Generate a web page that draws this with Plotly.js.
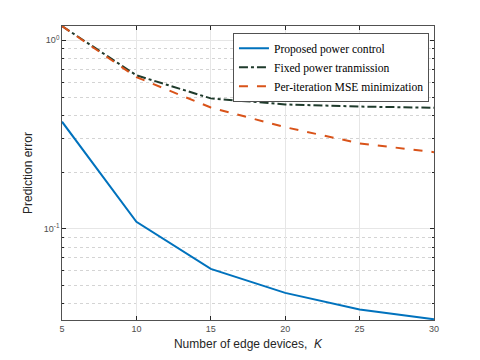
<!DOCTYPE html>
<html>
<head>
<meta charset="utf-8">
<script src="https://cdn.plot.ly/plotly-3.0.1.min.js"></script>
<style>
  html, body { margin: 0; padding: 0; background: #fff; }
  #chart { width: 480px; height: 360px; }
</style>
</head>
<body>
<div id="chart"></div>
<script>
// Number of edge devices K
const devices = [5, 10, 15, 20, 25, 30];

// Prediction error per scheme
const proposed = [0.370, 0.109, 0.0613, 0.0457, 0.0373, 0.0331];
const fixedPower = [1.19, 0.652, 0.492, 0.457, 0.445, 0.439];
const perIterMse = [1.19, 0.638, 0.440, 0.346, 0.284, 0.255];

const seriesNames = [
  'Proposed power control',
  'Fixed power tranmission',
  'Per-iteration MSE minimization',
];

const yTickVals = [0.1, 1];
const yTickText = ['10<sup>-1</sup>', '10<sup>0</sup>'];
const yMinorVals = [0.04, 0.05, 0.06, 0.07, 0.08, 0.09,
  0.2, 0.3, 0.4, 0.5, 0.6, 0.7, 0.8, 0.9];
const xTickVals = [5, 10, 15, 20, 25, 30];

const traces = [
  {
    x: devices, y: proposed, name: seriesNames[0],
    type: 'scatter', mode: 'lines',
    line: { color: '#0072BD', width: 2 },
  },
  {
    x: devices, y: fixedPower, name: seriesNames[1],
    type: 'scatter', mode: 'lines',
    line: { color: '#1f3b2c', width: 2, dash: 'dashdot' },
  },
  {
    x: devices, y: perIterMse, name: seriesNames[2],
    type: 'scatter', mode: 'lines',
    line: { color: '#D95319', width: 2, dash: 'dash' },
  },
];

const axisCommon = {
  showline: true,
  linecolor: '#262626',
  linewidth: 0.8,
  mirror: 'ticks',
  ticks: 'inside',
  ticklen: 4,
  tickcolor: '#262626',
  gridcolor: '#e6e6e6',
  gridwidth: 1,
  zeroline: false,
  tickfont: { family: 'Liberation Sans, Arial, sans-serif', size: 9, color: '#4d4d4d' },
};

const layout = {
  width: 480,
  height: 360,
  margin: { l: 62, r: 46, t: 26, b: 40 },
  paper_bgcolor: '#ffffff',
  plot_bgcolor: '#ffffff',
  showlegend: true,
  legend: {
    x: 0.987, y: 0.976, xanchor: 'right', yanchor: 'top',
    bgcolor: '#ffffff',
    bordercolor: '#262626',
    borderwidth: 0.8,
    font: { family: 'Liberation Serif, Times New Roman, serif', size: 11.6, color: '#000' },
    tracegroupgap: 0,
    itemwidth: 30,
  },
  xaxis: Object.assign({}, axisCommon, {
    range: [5, 30],
    tickvals: xTickVals,
    title: {
      text: 'Number of edge devices,  <i>K</i>',
      font: { family: 'Liberation Sans, Arial, sans-serif', size: 12, color: '#262626' },
      standoff: 6,
    },
  }),
  yaxis: Object.assign({}, axisCommon, {
    type: 'log',
    range: [-1.484, 0.076],
    tickvals: yTickVals,
    ticktext: yTickText,
    minor: {
      tickmode: 'array',
      tickvals: yMinorVals,
      showgrid: true,
      gridcolor: '#d4d4d4',
      griddash: 'dot',
      gridwidth: 1,
      ticks: 'inside',
      ticklen: 2,
      tickcolor: '#262626',
    },
    title: {
      text: 'Prediction error',
      font: { family: 'Liberation Sans, Arial, sans-serif', size: 12, color: '#262626' },
      standoff: 8,
    },
  }),
};

Plotly.newPlot('chart', traces, layout, { displayModeBar: false, staticPlot: true });
</script>
</body>
</html>
